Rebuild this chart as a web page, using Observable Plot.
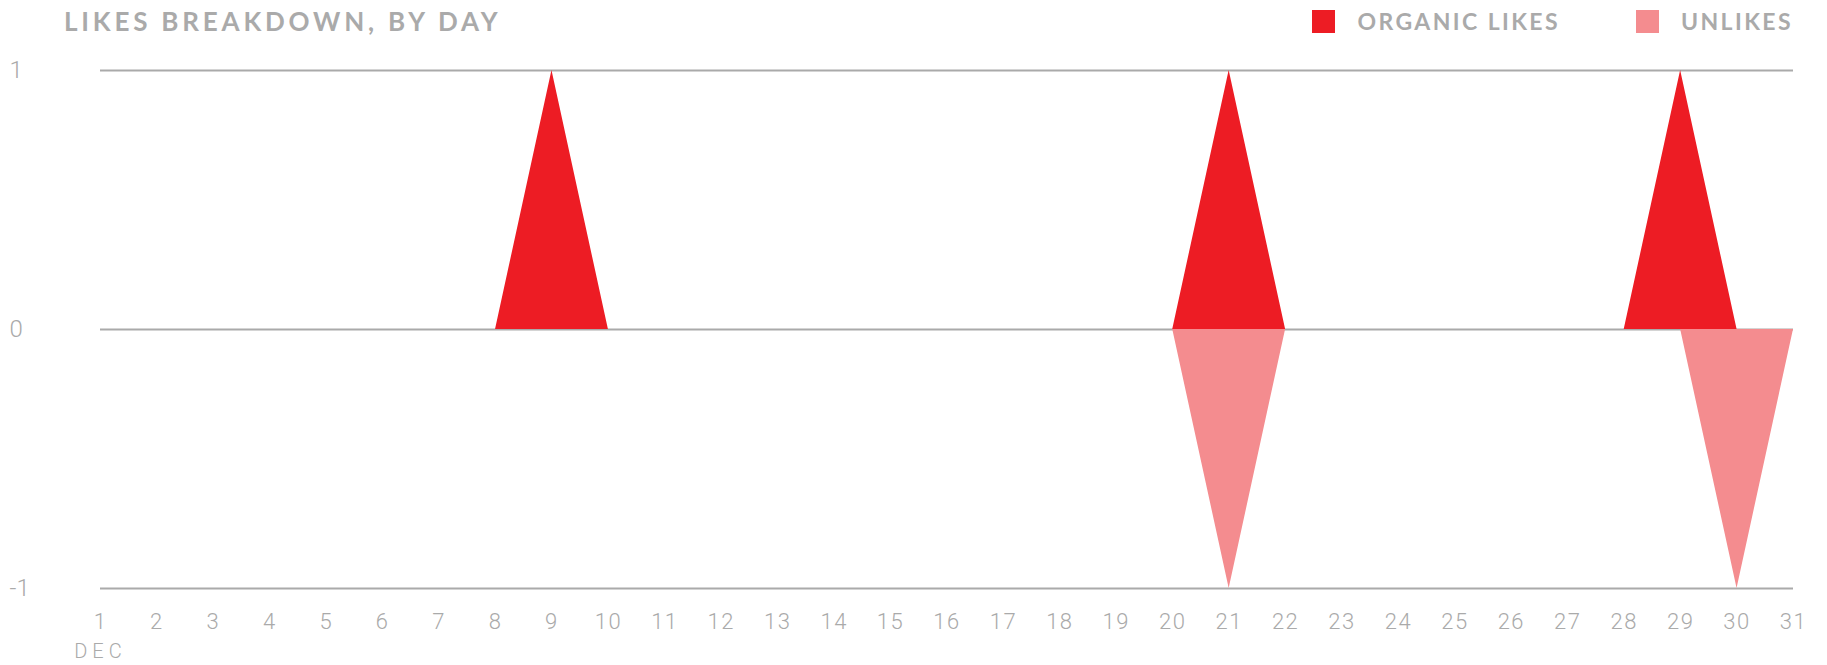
<!DOCTYPE html>
<html>
<head>
<meta charset="utf-8">
<script src="https://cdn.jsdelivr.net/npm/d3@7"></script>
<script src="https://cdn.jsdelivr.net/npm/@observablehq/plot@0.6"></script>
<style>
  html, body { margin: 0; padding: 0; background: #fff; }
  #wrap { position: relative; width: 1827px; height: 665px; overflow: hidden; }
  #title {
    position: absolute; left: 64px; top: 5px;
    font-family: Lato, "Open Sans", sans-serif; font-weight: 700;
    font-size: 26px; line-height: 32px; letter-spacing: 3.8px; color: #aaaaaa;
    white-space: nowrap;
  }
  #legend {
    position: absolute; right: 34px; top: 6px; display: flex; align-items: center;
    font-family: Lato, "Open Sans", sans-serif; font-weight: 700;
    font-size: 23px; line-height: 30px; letter-spacing: 2.4px; color: #aaaaaa;
    white-space: nowrap;
  }
  .sw { width: 23px; height: 23px; margin-right: 22px; }
  .item { display: flex; align-items: center; }
  .item + .item { margin-left: 76px; }
  #chart { position: absolute; left: 0; top: 0; }
</style>
</head>
<body>
<div id="wrap">
  <div id="chart"></div>
  <div id="title">LIKES BREAKDOWN, BY DAY</div>
  <div id="legend"></div>
</div>
<script>
// Days of December and the daily counts for each series
const days = d3.range(1, 32);
const organicLikes = [0,0,0,0,0,0,0,0,1,0, 0,0,0,0,0,0,0,0,0,0, 1,0,0,0,0,0,0,0,1,0, 0];
const unlikes      = [0,0,0,0,0,0,0,0,0,0, 0,0,0,0,0,0,0,0,0,0, -1,0,0,0,0,0,0,0,0,-1, 0];
const yTicks = [-1, 0, 1];
const monthLabel = "DEC";

const seriesNames = ["ORGANIC LIKES", "UNLIKES"];
const seriesColors = ["#ed1c24", "#f48c8f"];

const organicRows = days.map((d, i) => ({day: d, value: organicLikes[i]}));
const unlikeRows = days.map((d, i) => ({day: d, value: unlikes[i]}));

const tickFont = "Roboto, 'Open Sans', sans-serif";

const chart = Plot.plot({
  width: 1827,
  height: 665,
  marginTop: 70,
  marginBottom: 77,
  marginLeft: 100,
  marginRight: 34,
  style: {fontFamily: tickFont, color: "#aaaaaa", background: "white"},
  x: {domain: [1, 31]},
  y: {domain: [-1, 1]},
  marks: [
    Plot.ruleY(yTicks, {stroke: "#aaaaaa", strokeWidth: 2}),
    Plot.areaY(organicRows, {x: "day", y: "value", fill: seriesColors[0], curve: "linear"}),
    Plot.areaY(unlikeRows, {x: "day", y: "value", fill: seriesColors[1], curve: "linear"}),
    Plot.axisY(yTicks, {
      tickSize: 0, tickPadding: 0, textAnchor: "start", dx: -91,
      fontSize: 24, fontWeight: 300, fill: "#aaaaaa", label: null, tickFormat: d => String(d)
    }),
    Plot.axisX(days, {
      tickSize: 0, tickPadding: 25, fontSize: 22, fontWeight: 300, fill: "#aaaaaa",
      label: null, tickFormat: d => String(d)
    }),
    Plot.text([monthLabel], {
      x: 1, y: -1, text: d => d, dy: 63, fontSize: 20, fontWeight: 300,
      fill: "#aaaaaa", textAnchor: "middle", fontFamily: tickFont
    })
  ]
});
chart.querySelectorAll("text").forEach(t => {
  if (t.textContent === monthLabel) t.style.letterSpacing = "5px";
  else if (/^\d+$/.test(t.textContent)) t.style.letterSpacing = "1.5px";
});
document.getElementById("chart").appendChild(chart);

// Legend swatches and labels
const legend = document.getElementById("legend");
seriesNames.forEach((name, i) => {
  const item = document.createElement("div");
  item.className = "item";
  const sw = document.createElement("div");
  sw.className = "sw";
  sw.style.background = seriesColors[i];
  const label = document.createElement("span");
  label.textContent = name;
  item.appendChild(sw);
  item.appendChild(label);
  legend.appendChild(item);
});
</script>
</body>
</html>
